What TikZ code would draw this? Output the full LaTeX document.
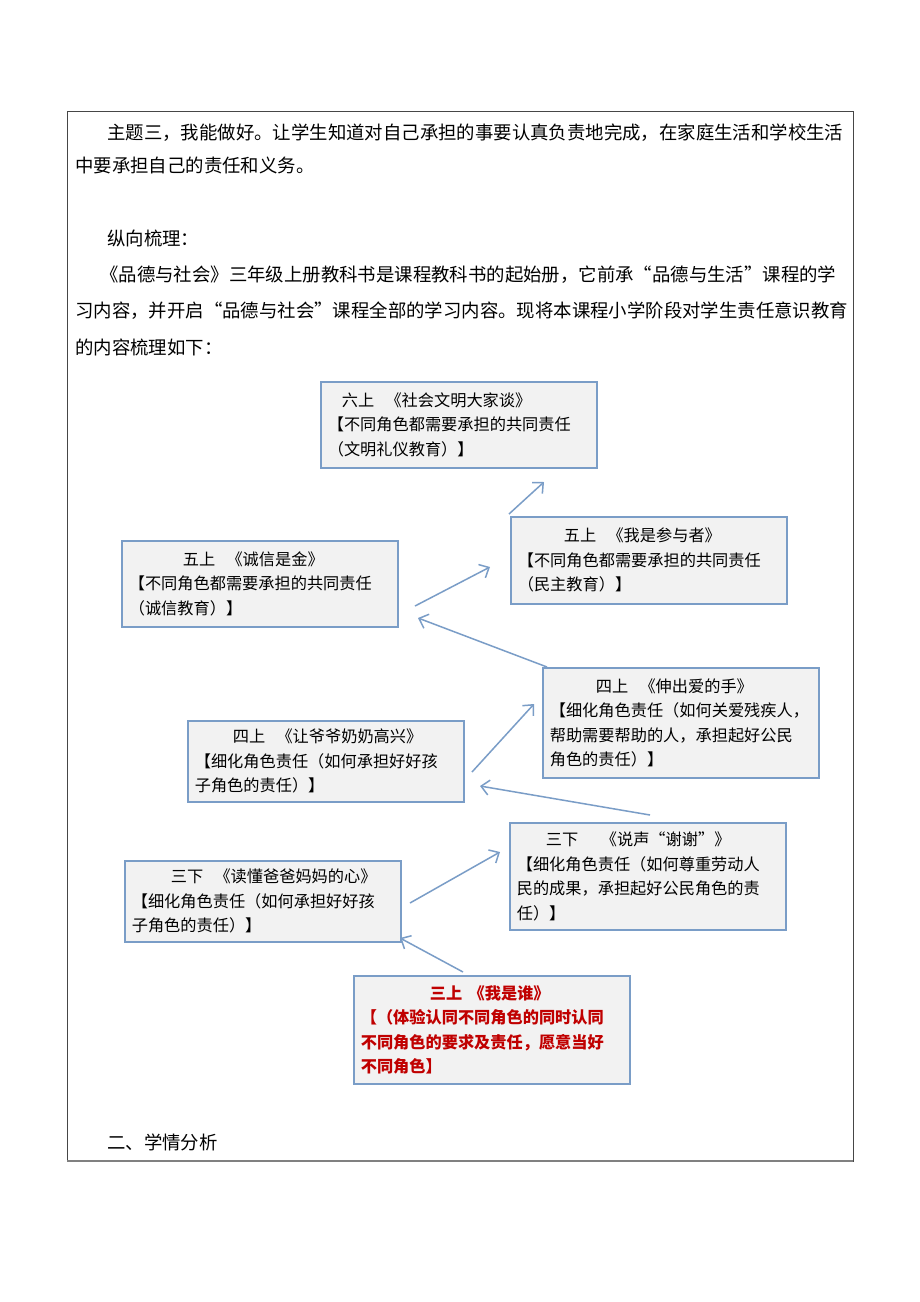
\documentclass[tikz,border=0pt]{standalone}
\usepackage{fontspec}
\setmainfont{Noto Sans CJK SC}
\usetikzlibrary{arrows.meta}
\definecolor{boxblue}{RGB}{122,157,199}
\definecolor{boxfill}{RGB}{242,242,242}
\definecolor{darkred}{RGB}{192,0,0}
\definecolor{framegray}{RGB}{70,70,70}
\tikzset{
  card/.style={draw=boxblue, line width=1.6pt, fill=boxfill, anchor=north west,
    minimum width=276pt, text width=262pt, inner xsep=7pt, inner ysep=0pt,
    align=left, font=\fontsize{16.2}{24.5}\selectfont},
  link/.style={draw=boxblue, line width=1.5pt,
    -{Straight Barb[length=8pt,width=15pt,line width=1.5pt]}},
  body/.style={anchor=west, inner sep=0pt, font=\fontsize{18.4}{22}\selectfont}
}
\begin{document}
\begin{tikzpicture}[x=1pt,y=-1pt]
\useasboundingbox (0,0) rectangle (920,1302);
\fill[white] (0,0) rectangle (920,1302);
% frame
\draw[framegray, line width=1pt] (67,111) rectangle (853,1161);
\draw[gray, line width=2pt] (67,1161) -- (853,1161);
% body text
\node[body] (t1) at (107,133) {主题三，我能做好。让学生知道对自己承担的事要认真负责地完成，在家庭生活和学校生活};
\node[body] (t2) at (75,165) {中要承担自己的责任和义务。};
\node[body] (t3) at (107,238) {纵向梳理：};
\node[body] (t4) at (100,275) {《品德与社会》三年级上册教科书是课程教科书的起始册，它前承“品德与生活”课程的学};
\node[body] (t5) at (75,311) {习内容，并开启“品德与社会”课程全部的学习内容。现将本课程小学阶段对学生责任意识教育};
\node[body] (t6) at (75,347) {的内容梳理如下：};
\node[body] (t7) at (107,1142) {二、学情分析};
% boxes
\node[card, minimum height=86pt] (b61) at (320,381)
  {\hspace*{14pt}六上\hspace{0.7em}《社会文明大家谈》\\【不同角色都需要承担的共同责任\\（文明礼仪教育）】};
\node[card, minimum height=86pt] (b51) at (121,540)
  {\hspace*{54pt}五上\hspace{0.7em}《诚信是金》\\【不同角色都需要承担的共同责任\\（诚信教育）】};
\node[card, minimum height=87pt] (b52) at (510,516)
  {\hspace*{46pt}五上\hspace{0.7em}《我是参与者》\\【不同角色都需要承担的共同责任\\（民主教育）】};
\node[card, minimum height=110pt] (b41) at (542,667)
  {\hspace*{46pt}四上\hspace{0.7em}《伸出爱的手》\\【细化角色责任（如何关爱残疾人，\\帮助需要帮助的人，承担起好公民\\角色的责任）】};
\node[card, minimum height=81pt] (b42) at (187,720)
  {\hspace*{38pt}四上\hspace{0.7em}《让爷爷奶奶高兴》\\【细化角色责任（如何承担好好孩\\子角色的责任）】};
\node[card, minimum height=107pt] (b32) at (509,822)
  {\hspace*{29pt}三下\hspace{1.4em}《说声“谢谢”》\\【细化角色责任（如何尊重劳动人\\民的成果，承担起好公民角色的责\\任）】};
\node[card, minimum height=81pt] (b33) at (124,860)
  {\hspace*{39pt}三下\hspace{0.7em}《读懂爸爸妈妈的心》\\【细化角色责任（如何承担好好孩\\子角色的责任）】};
\node[card, minimum height=108pt, text=darkred, font=\fontsize{16.2}{24.5}\selectfont\bfseries] (b31) at (353,975)
  {\hspace*{69pt}三上\hspace{0.4em}《我是谁》\\【（体验认同不同角色的同时认同\\不同角色的要求及责任，愿意当好\\不同角色】};
% connector end points
\coordinate (a1s) at (463,972); \coordinate (a1e) at (400,938);
\coordinate (a2s) at (410,903); \coordinate (a2e) at (500,852);
\coordinate (a3s) at (650,815); \coordinate (a3e) at (480,786);
\coordinate (a4s) at (472,772); \coordinate (a4e) at (534,704);
\coordinate (a5s) at (547,667); \coordinate (a5e) at (418,618);
\coordinate (a6s) at (415,606); \coordinate (a6e) at (490,567);
\coordinate (a7s) at (509,514); \coordinate (a7e) at (544,482);
\draw[link] (a1s) -- (a1e);
\draw[link] (a2s) -- (a2e);
\draw[link] (a3s) -- (a3e);
\draw[link] (a4s) -- (a4e);
\draw[link] (a5s) -- (a5e);
\draw[link] (a6s) -- (a6e);
\draw[link] (a7s) -- (a7e);
\end{tikzpicture}
\end{document}
